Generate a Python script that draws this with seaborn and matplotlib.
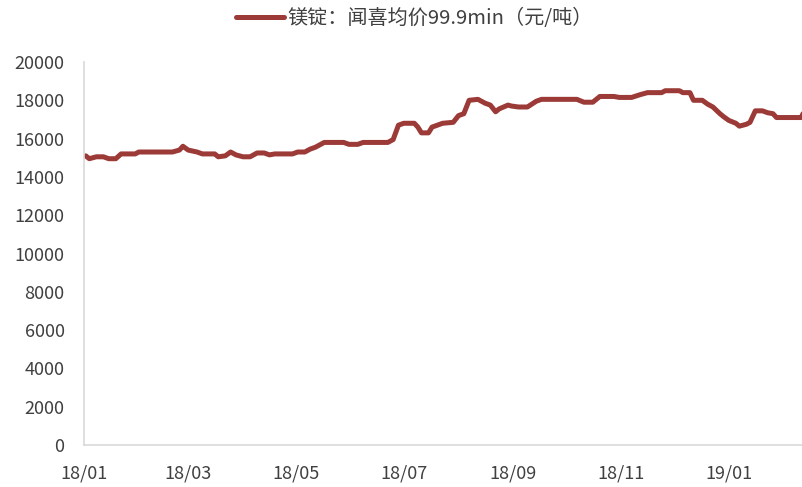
import pandas as pd
import numpy as np
import matplotlib.pyplot as plt
import matplotlib.dates as mdates
import seaborn as sns

sns.set_style("white")
plt.rcParams['font.family'] = ['Noto Sans CJK SC', 'DejaVu Sans']

# --- DATA ---
dates = [
    "2018-01-02", "2018-01-04", "2018-01-08", "2018-01-12", "2018-01-15", "2018-01-19",
    "2018-01-22", "2018-01-30", "2018-02-01", "2018-02-20", "2018-02-24", "2018-02-26",
    "2018-03-01", "2018-03-06", "2018-03-09", "2018-03-16", "2018-03-18", "2018-03-22",
    "2018-03-25", "2018-03-28", "2018-04-01", "2018-04-05", "2018-04-09", "2018-04-13",
    "2018-04-16", "2018-04-19", "2018-04-29", "2018-05-02", "2018-05-06", "2018-05-09",
    "2018-05-12", "2018-05-15", "2018-05-17", "2018-05-28", "2018-05-31", "2018-06-05",
    "2018-06-08", "2018-06-22", "2018-06-25", "2018-06-28", "2018-07-01", "2018-07-07",
    "2018-07-09", "2018-07-11", "2018-07-15", "2018-07-17", "2018-07-20", "2018-07-23",
    "2018-07-29", "2018-08-01", "2018-08-04", "2018-08-07", "2018-08-12", "2018-08-16",
    "2018-08-19", "2018-08-22", "2018-08-24", "2018-08-29", "2018-08-31", "2018-09-04",
    "2018-09-09", "2018-09-14", "2018-09-17", "2018-10-07", "2018-10-11", "2018-10-16",
    "2018-10-20", "2018-10-28", "2018-10-31", "2018-11-07", "2018-11-12", "2018-11-16",
    "2018-11-24", "2018-11-26", "2018-12-04", "2018-12-06", "2018-12-10", "2018-12-12",
    "2018-12-17", "2018-12-20", "2018-12-23", "2018-12-27", "2018-12-29", "2019-01-01",
    "2019-01-05", "2019-01-07", "2019-01-11", "2019-01-13", "2019-01-16", "2019-01-20",
    "2019-01-23", "2019-01-26", "2019-01-28", "2019-02-11", "2019-02-12",
]
prices = [
    15100, 14950, 15050, 15050, 14950, 14950,
    15200, 15200, 15300, 15300, 15400, 15600,
    15400, 15300, 15200, 15200, 15050, 15100,
    15300, 15150, 15050, 15050, 15250, 15250,
    15150, 15200, 15200, 15300, 15300, 15450,
    15550, 15700, 15800, 15800, 15700, 15700,
    15800, 15800, 15950, 16700, 16800, 16800,
    16600, 16300, 16300, 16600, 16700, 16800,
    16850, 17200, 17300, 18000, 18050, 17850,
    17750, 17400, 17550, 17750, 17700, 17650,
    17650, 17950, 18050, 18050, 17900, 17900,
    18200, 18200, 18150, 18150, 18300, 18400,
    18400, 18500, 18500, 18400, 18400, 18000,
    18000, 17800, 17650, 17300, 17150, 16950,
    16800, 16650, 16750, 16850, 17450, 17450,
    17350, 17300, 17100, 17100, 17300,
]
series_name = "镁锭：闻喜均价99.9min（元/吨）"
y_ticks = list(range(0, 20001, 2000))
x_ticks = ["2018-01-01", "2018-03-01", "2018-05-01", "2018-07-01",
           "2018-09-01", "2018-11-01", "2019-01-01"]

df = pd.DataFrame({"date": pd.to_datetime(dates), "price": prices})

fig = plt.figure(figsize=(8.03, 4.87), dpi=100)
ax = fig.add_axes([0.1046, 0.0862, 0.8954, 0.7865])

sns.lineplot(data=df, x="date", y="price", ax=ax, color="#9B3A37",
             linewidth=3.6, label=series_name, legend=False)

ax.set_xlim(pd.Timestamp("2018-01-01"), pd.Timestamp("2019-02-12"))
ax.set_ylim(0, 20000)
ax.set_yticks(y_ticks)
ax.set_xticks(pd.to_datetime(x_ticks))
ax.xaxis.set_major_formatter(mdates.DateFormatter("%y/%m"))
ax.set_xlabel("")
ax.set_ylabel("")

for side in ["top", "right"]:
    ax.spines[side].set_visible(False)
for side in ["left", "bottom"]:
    ax.spines[side].set_color("#D9D9D9")
    ax.spines[side].set_linewidth(1.2)

ax.tick_params(axis="both", direction="in", length=5, width=1, color="#D9D9D9",
               labelsize=13, labelcolor="#404040")
ax.tick_params(axis="y", pad=14)
ax.tick_params(axis="x", pad=14)

handles, labels = ax.get_legend_handles_labels()
fig.legend(handles, labels, loc="center", bbox_to_anchor=(0.516, 0.962),
           frameon=False, handlelength=2.4, handletextpad=0.15,
           prop={"family": ["Noto Sans CJK SC", "DejaVu Sans"], "size": 14.5},
           labelcolor="#404040")

fig.savefig("out.png", dpi=100)
plt.close()
